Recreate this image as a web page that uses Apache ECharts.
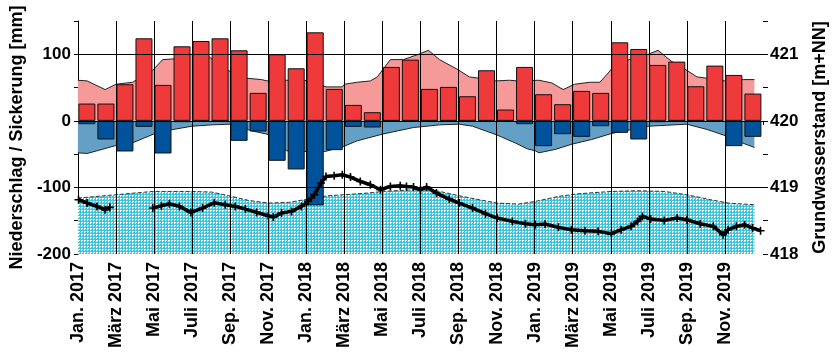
<!DOCTYPE html>
<html>
<head>
<meta charset="utf-8">
<script src="https://cdn.jsdelivr.net/npm/echarts@6/dist/echarts.min.js"></script>
<style>
  html, body { margin: 0; padding: 0; background: #fff; }
  #chart { width: 837px; height: 353px; }
</style>
</head>
<body>
<div id="chart"></div>
<script>
// Monthly water balance and groundwater level, Jan. 2017 – Dez. 2019
const startYear = 2017;
const monthNames = ['Jan.', 'Feb.', 'März', 'Apr.', 'Mai', 'Juni', 'Juli', 'Aug.', 'Sep.', 'Okt.', 'Nov.', 'Dez.'];

// Monthly precipitation [mm]
const niederschlag = [
  26, 26, 55, 124, 54, 112, 120, 124, 106, 42, 100, 79,
  133, 48, 24, 13, 81, 92, 48, 51, 37, 76, 17, 81,
  40, 25, 45, 42, 118, 108, 84, 89, 52, 83, 69, 41
];

// Monthly seepage [mm] (negative = downward)
const sickerung = [
  -5, -28, -46, -9, -49, -2, 0, 0, -30, -16, -60, -73,
  -127, -44, -9, -10, 0, 0, 0, 0, 0, 0, 0, -5,
  -38, -20, -24, -8, -18, -28, -2, 0, 0, 0, -38, -24
];

// Long-term mean precipitation [mm]
const niederschlagMittel = [
  ['2017-01-01', 61], ['2017-01-16', 60], ['2017-02-13', 47], ['2017-03-01', 55],
  ['2017-03-28', 58], ['2017-04-29', 76], ['2017-05-15', 92], ['2017-06-01', 93],
  ['2017-06-29', 100], ['2017-07-28', 97], ['2017-08-03', 92], ['2017-08-30', 75],
  ['2017-09-28', 64], ['2017-10-21', 62], ['2017-10-30', 60], ['2017-11-30', 61],
  ['2017-12-29', 61], ['2018-02-02', 51], ['2018-02-26', 51], ['2018-03-01', 55],
  ['2018-03-22', 58], ['2018-04-12', 60], ['2018-04-23', 66], ['2018-05-14', 92],
  ['2018-06-04', 92], ['2018-06-28', 100], ['2018-07-14', 106], ['2018-08-01', 92],
  ['2018-08-31', 77], ['2018-09-18', 66], ['2018-10-04', 64], ['2018-10-31', 60],
  ['2018-11-21', 61], ['2018-12-04', 60], ['2019-01-08', 61], ['2019-01-29', 57],
  ['2019-02-15', 47], ['2019-03-04', 55], ['2019-03-29', 58], ['2019-04-14', 58],
  ['2019-04-27', 72], ['2019-05-04', 80], ['2019-05-31', 92], ['2019-06-30', 100],
  ['2019-07-16', 106], ['2019-08-06', 90], ['2019-08-30', 77], ['2019-09-17', 66],
  ['2019-10-03', 64], ['2019-11-01', 60], ['2019-11-30', 62], ['2019-12-18', 62]
];

// Long-term mean seepage [mm]
const sickerungMittel = [
  ['2017-01-01', -48], ['2017-01-16', -49], ['2017-02-01', -45], ['2017-03-01', -37],
  ['2017-03-28', -33], ['2017-04-30', -20], ['2017-06-01', -13], ['2017-07-01', -8],
  ['2017-08-03', -6], ['2017-09-01', -5], ['2017-10-05', -15], ['2017-10-30', -20],
  ['2017-11-30', -45], ['2017-12-29', -46], ['2018-02-01', -46], ['2018-03-01', -38],
  ['2018-03-22', -30], ['2018-05-01', -20], ['2018-06-20', -10], ['2018-07-01', -9],
  ['2018-08-01', -6], ['2018-09-02', -5], ['2018-09-23', -8], ['2018-11-01', -21],
  ['2018-11-30', -33], ['2018-12-20', -42], ['2019-01-02', -45], ['2019-01-08', -48],
  ['2019-02-03', -43], ['2019-02-28', -35], ['2019-04-01', -28], ['2019-05-02', -19],
  ['2019-07-01', -8], ['2019-09-01', -5], ['2019-10-03', -13], ['2019-11-04', -23],
  ['2019-11-28', -33], ['2019-12-18', -40]
];

// Long-term mean groundwater level [m+NN]
const grundwasserMittel = [
  ['2017-01-01', 418.84], ['2017-03-01', 418.89], ['2017-04-29', 418.94], ['2017-06-29', 418.94],
  ['2017-08-02', 418.93], ['2017-08-30', 418.875], ['2017-09-30', 418.805], ['2017-11-01', 418.765],
  ['2017-12-03', 418.775], ['2018-01-04', 418.825], ['2018-02-05', 418.875], ['2018-03-01', 418.89],
  ['2018-04-07', 418.915], ['2018-05-03', 418.94], ['2018-06-20', 418.965], ['2018-07-01', 418.99],
  ['2018-08-01', 418.94], ['2018-09-02', 418.875], ['2018-10-04', 418.815], ['2018-11-02', 418.765],
  ['2018-12-06', 418.75], ['2019-01-02', 418.79], ['2019-02-08', 418.865], ['2019-03-10', 418.905],
  ['2019-05-02', 418.94], ['2019-06-13', 418.95], ['2019-07-26', 418.94], ['2019-09-01', 418.89],
  ['2019-10-09', 418.815], ['2019-11-06', 418.765], ['2019-12-18', 418.74]
];

// Measured groundwater level [m+NN]; null = no measurement
const grundwasser = [
  ['2017-01-02', 418.815], ['2017-01-16', 418.766], ['2017-02-01', 418.715], ['2017-02-13', 418.665],
  ['2017-02-20', 418.70], ['2017-03-20', null],
  ['2017-04-29', 418.69], ['2017-05-13', 418.725], ['2017-05-26', 418.755], ['2017-06-11', 418.715],
  ['2017-06-29', 418.625], ['2017-07-18', 418.69], ['2017-08-06', 418.77], ['2017-08-24', 418.74],
  ['2017-09-09', 418.715], ['2017-09-25', 418.675], ['2017-10-13', 418.625], ['2017-11-01', 418.575],
  ['2017-11-09', 418.555], ['2017-11-22', 418.615], ['2017-12-08', 418.64], ['2017-12-24', 418.715],
  ['2018-01-04', 418.79], ['2018-01-14', 418.89], ['2018-01-25', 419.066], ['2018-02-02', 419.165],
  ['2018-02-14', 419.175], ['2018-02-26', 419.19], ['2018-03-11', 419.155], ['2018-03-27', 419.09],
  ['2018-04-12', 419.04], ['2018-04-28', 418.965], ['2018-05-14', 419.015], ['2018-05-30', 419.025],
  ['2018-06-09', 419.015], ['2018-06-20', 419.005], ['2018-07-01', 418.965], ['2018-07-11', 419.005],
  ['2018-07-27', 418.915], ['2018-08-17', 418.825], ['2018-09-02', 418.765], ['2018-09-23', 418.69],
  ['2018-10-14', 418.605], ['2018-11-02', 418.54], ['2018-11-26', 418.49], ['2018-12-17', 418.455],
  ['2019-01-02', 418.44], ['2019-01-18', 418.45], ['2019-02-08', 418.40], ['2019-02-27', 418.365],
  ['2019-03-21', 418.35], ['2019-04-11', 418.34], ['2019-05-02', 418.305], ['2019-05-18', 418.365],
  ['2019-06-03', 418.415], ['2019-06-13', 418.49], ['2019-06-21', 418.565], ['2019-07-04', 418.525],
  ['2019-07-26', 418.505], ['2019-08-16', 418.54], ['2019-09-01', 418.515], ['2019-09-22', 418.455],
  ['2019-10-13', 418.415], ['2019-10-29', 418.29], ['2019-11-06', 418.365], ['2019-11-19', 418.415],
  ['2019-12-02', 418.44], ['2019-12-15', 418.39], ['2019-12-28', 418.35]
];

// Tick values
const monthTicks = [0, 2, 4, 6, 8, 10, 12, 14, 16, 18, 20, 22, 24, 26, 28, 30, 32, 34];
const mmGridLines = [100, 0, -100];

// Position of a date on the month axis (0 = 1 Jan 2017)
function monthPos(s) {
  const [y, m, d] = s.split('-').map(Number);
  const days = new Date(y, m, 0).getDate();
  return (y - startYear) * 12 + (m - 1) + (d - 1) / days;
}
const toXY = arr => arr.map(([d, v]) => [monthPos(d), v === null ? '-' : v]);

// Dotted cyan fill
function dotPattern() {
  const c = document.createElement('canvas');
  c.width = 3; c.height = 3;
  const g = c.getContext('2d');
  g.fillStyle = '#3cc4dc';
  g.fillRect(0, 0, 3, 3);
  g.fillStyle = '#ffffff';
  g.fillRect(0, 0, 2, 1);
  g.fillRect(0, 1, 1, 1);
  return c;
}

const font = "'Liberation Sans', Arial, sans-serif";
const chart = echarts.init(document.getElementById('chart'), null, { renderer: 'canvas' });

chart.setOption({
  animation: false,
  backgroundColor: '#fff',
  textStyle: { fontFamily: font },
  grid: { left: 77, right: 68, top: 21, bottom: 99 },
  xAxis: {
    type: 'value', min: 0, max: 36, interval: 2,
    axisLine: { show: true, lineStyle: { color: '#000', width: 1 } },
    axisTick: { show: true, length: 4, lineStyle: { color: '#000' } },
    splitLine: { show: false },
    axisLabel: {
      rotate: 90, margin: 8, color: '#000', fontSize: 18, fontWeight: 'bold', fontFamily: font,
      formatter: v => v >= 36 ? '' : monthNames[v % 12] + ' ' + (startYear + Math.floor(v / 12))
    }
  },
  yAxis: [
    {
      type: 'value', min: -200, max: 150, interval: 50,
      name: 'Niederschlag / Sickerung [mm]', nameLocation: 'middle', nameGap: 48,
      nameTextStyle: { fontSize: 18, fontWeight: 'bold', color: '#000', fontFamily: font },
      axisLine: { show: true, lineStyle: { color: '#000', width: 1 } },
      axisTick: { show: true, length: 4, lineStyle: { color: '#000' } },
      splitLine: { show: false },
      axisLabel: {
        margin: 7, color: '#000', fontSize: 17, fontWeight: 'bold', fontFamily: font,
        formatter: v => (v % 100 === 0 ? String(v) : '')
      }
    },
    {
      type: 'value', min: 418, max: 421.5, interval: 0.5, position: 'right',
      name: 'Grundwasserstand [m+NN]', nameLocation: 'middle', nameGap: 48, nameRotate: 90,
      nameTextStyle: { fontSize: 18, fontWeight: 'bold', color: '#000', fontFamily: font },
      axisLine: { show: false },
      axisTick: { show: true, length: 5, lineStyle: { color: '#000' } },
      splitLine: { show: false },
      axisLabel: {
        margin: 7, color: '#000', fontSize: 17, fontWeight: 'bold', fontFamily: font,
        formatter: v => (Number.isInteger(v) ? String(v) : '')
      }
    }
  ],
  series: [
    {
      name: 'Grundwasser Mittel', type: 'line', yAxisIndex: 1, z: 1,
      data: toXY(grundwasserMittel), symbol: 'none', silent: true,
      lineStyle: { color: '#333', width: 1, type: 'dashed' },
      areaStyle: { origin: 'start', opacity: 1, color: { image: dotPattern(), repeat: 'repeat' } }
    },
    {
      name: 'Niederschlag Mittel', type: 'line', yAxisIndex: 0, z: 1,
      data: toXY(niederschlagMittel), symbol: 'none', silent: true,
      lineStyle: { color: '#222', width: 1 },
      areaStyle: { color: '#f59a98', opacity: 1 }
    },
    {
      name: 'Sickerung Mittel', type: 'line', yAxisIndex: 0, z: 1,
      data: toXY(sickerungMittel), symbol: 'none', silent: true,
      lineStyle: { color: '#222', width: 1 },
      areaStyle: { color: '#64a0c6', opacity: 1 }
    },
    {
      name: 'Gitter', type: 'line', yAxisIndex: 0, z: 2, data: [], silent: true,
      markLine: {
        silent: true, symbol: 'none', label: { show: false },
        lineStyle: { color: '#000', width: 1, type: 'solid' },
        data: mmGridLines.map(v => ({ yAxis: v })).concat(monthTicks.slice(1).map(v => ({ xAxis: v })))
      }
    },
    {
      name: 'Niederschlag', type: 'bar', yAxisIndex: 0, z: 3,
      data: niederschlag.map((v, i) => [i + 0.47, v]),
      barWidth: 17, barGap: '-100%',
      itemStyle: { color: '#ee3a3a', borderColor: '#111', borderWidth: 1 }
    },
    {
      name: 'Sickerung', type: 'bar', yAxisIndex: 0, z: 3,
      data: sickerung.map((v, i) => [i + 0.47, v]),
      barWidth: 17, barGap: '-100%',
      itemStyle: { color: '#00529a', borderColor: '#111', borderWidth: 1 }
    },
    {
      name: 'Grundwasserstand', type: 'line', yAxisIndex: 1, z: 4,
      data: toXY(grundwasser), connectNulls: false,
      symbol: 'path://M4,0H6V4H10V6H6V10H4V6H0V4H4Z', symbolSize: 8, showAllSymbol: true,
      itemStyle: { color: '#000' },
      lineStyle: { color: '#000', width: 3.5 }
    }
  ]
});
</script>
</body>
</html>
